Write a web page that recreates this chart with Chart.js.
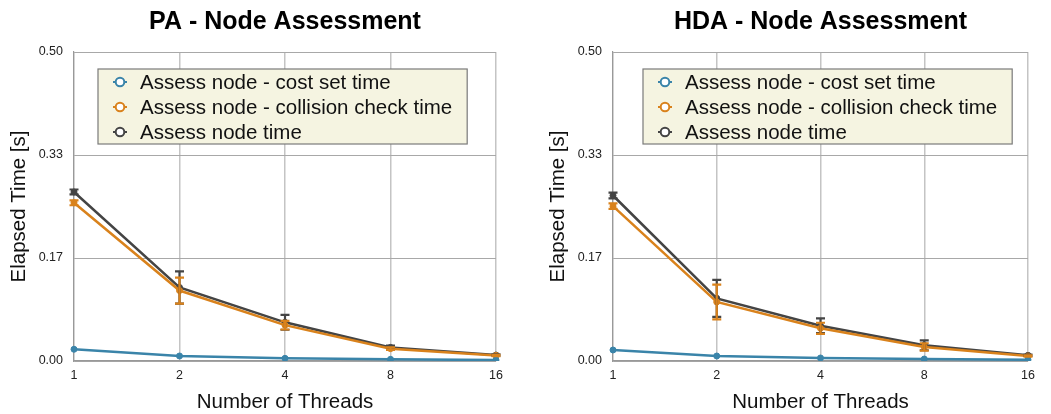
<!DOCTYPE html>
<html>
<head>
<meta charset="utf-8">
<title>Node Assessment</title>
<script src="https://cdn.jsdelivr.net/npm/chart.js"></script>
<style>
  body { margin: 0; background: #fff; }
  #charts { display: flex; width: 1051px; height: 414px; }
  canvas { display: block; }
</style>
</head>
<body>
<div id="charts">
  <canvas id="pa-chart" width="520" height="414"></canvas>
  <canvas id="hda-chart" width="531" height="414"></canvas>
</div>
<script>
const FONT = "'Liberation Sans', Arial, Helvetica, sans-serif";

const threadCounts = ['1', '2', '4', '8', '16'];
const seriesNames = ['Assess node - cost set time', 'Assess node - collision check time', 'Assess node time'];
const seriesColors = ['#3a84a9', '#d9821c', '#444444'];

const yTickValues = [0, 1 / 6, 2 / 6, 0.5];
const yTickLabels = ['0.00', '0.17', '0.33', '0.50'];

// PA timings (seconds) and error margins
const paCostSet = [0.019, 0.0081, 0.0043, 0.0027, 0.0016];
const paCollision = [0.256, 0.114, 0.058, 0.020, 0.009];
const paTotal = [0.2735, 0.119, 0.0626, 0.022, 0.0097];
const paCostSetErr = [0, 0, 0, 0, 0];
const paCollisionErr = [0.004, 0.021, 0.007, 0.002, 0.001];
const paTotalErr = [0.004, 0.026, 0.012, 0.003, 0.001];

// HDA timings (seconds) and error margins
const hdaCostSet = [0.0178, 0.0081, 0.0049, 0.0032, 0.002];
const hdaCollision = [0.2505, 0.0955, 0.0529, 0.0227, 0.0081];
const hdaTotal = [0.2678, 0.1014, 0.057, 0.0254, 0.0092];
const hdaCostSetErr = [0, 0, 0, 0, 0];
const hdaCollisionErr = [0.0045, 0.028, 0.009, 0.006, 0.001];
const hdaTotalErr = [0.0045, 0.030, 0.012, 0.008, 0.001];

// vertical error bars with caps, drawn from dataset.errors
const errorBars = {
  id: 'errorBars',
  afterDatasetsDraw(chart) {
    const ctx = chart.ctx;
    const yScale = chart.scales.y;
    for (let i = chart.data.datasets.length - 1; i >= 0; i--) {
      const ds = chart.data.datasets[i];
      if (!ds.errors) continue;
      const meta = chart.getDatasetMeta(i);
      ctx.save();
      ctx.strokeStyle = ds.borderColor;
      ctx.lineWidth = 2.2;
      meta.data.forEach((pt, j) => {
        const e = ds.errors[j];
        if (!e) return;
        const top = yScale.getPixelForValue(ds.data[j] + e);
        const bottom = yScale.getPixelForValue(ds.data[j] - e);
        ctx.beginPath();
        ctx.moveTo(pt.x, top);
        ctx.lineTo(pt.x, bottom);
        ctx.moveTo(pt.x - 4.5, top);
        ctx.lineTo(pt.x + 4.5, top);
        ctx.moveTo(pt.x - 4.5, bottom);
        ctx.lineTo(pt.x + 4.5, bottom);
        ctx.stroke();
      });
      ctx.restore();
    }
  }
};

// boxed legend sitting inside the plot area
const boxLegend = {
  id: 'boxLegend',
  afterDraw(chart, args, opts) {
    const ctx = chart.ctx;
    const area = chart.chartArea;
    const datasets = chart.data.datasets;
    ctx.save();
    ctx.font = '20.5px ' + FONT;
    let textW = 0;
    datasets.forEach(ds => { textW = Math.max(textW, ctx.measureText(ds.label).width); });
    const x = area.left + opts.offsetX;
    const y = area.top + opts.offsetY;
    const w = textW + 57;
    const h = 75;
    ctx.fillStyle = '#f5f4e1';
    ctx.fillRect(x, y, w, h);
    ctx.strokeStyle = '#7a7a7a';
    ctx.lineWidth = 1.2;
    ctx.strokeRect(x, y, w, h);
    datasets.forEach((ds, i) => {
      const cy = y + 13 + i * 25;
      const mx = x + 22;
      ctx.strokeStyle = ds.borderColor;
      ctx.lineWidth = 2;
      ctx.beginPath();
      ctx.moveTo(mx - 7, cy);
      ctx.lineTo(mx + 7, cy);
      ctx.stroke();
      ctx.beginPath();
      ctx.arc(mx, cy, 4.3, 0, Math.PI * 2);
      ctx.fillStyle = '#fff';
      ctx.fill();
      ctx.stroke();
      ctx.fillStyle = '#111';
      ctx.textBaseline = 'middle';
      ctx.textAlign = 'left';
      ctx.fillText(ds.label, x + 42, cy + 1);
    });
    ctx.restore();
  }
};

function makeDataset(i, values, errors) {
  return {
    label: seriesNames[i],
    data: values,
    errors: errors,
    borderColor: seriesColors[i],
    backgroundColor: seriesColors[i],
    pointBackgroundColor: seriesColors[i],
    pointBorderColor: seriesColors[i],
    borderWidth: 2.5,
    pointRadius: 3,
    pointBorderWidth: 1,
    tension: 0
  };
}

function buildChart(canvasId, titleText, costSet, collision, total, errs, padLeft, padRight, legendX) {
  const ctx = document.getElementById(canvasId).getContext('2d');
  return new Chart(ctx, {
    type: 'line',
    data: {
      labels: threadCounts,
      datasets: [
        makeDataset(0, costSet, errs[0]),
        makeDataset(1, collision, errs[1]),
        makeDataset(2, total, errs[2])
      ]
    },
    options: {
      responsive: false,
      animation: false,
      devicePixelRatio: 1,
      events: [],
      layout: { padding: { left: padLeft, right: padRight, top: 0, bottom: 0 } },
      plugins: {
        legend: { display: false },
        tooltip: { enabled: false },
        title: {
          display: true,
          text: titleText,
          fullSize: false,
          color: '#000',
          font: { family: FONT, size: 25, weight: 'bold', lineHeight: 1 },
          padding: { top: 9.5, bottom: 17.5 }
        },
        boxLegend: { offsetX: legendX, offsetY: 17 }
      },
      scales: {
        x: {
          offset: false,
          grid: { color: '#c4c4c4', lineWidth: 1.5, drawTicks: false },
          border: { color: '#999999', width: 1.2 },
          ticks: { color: '#222', padding: 7, font: { family: FONT, size: 12.5 } },
          title: {
            display: true,
            text: 'Number of Threads',
            color: '#111',
            font: { family: FONT, size: 20.5, lineHeight: 1 },
            padding: { top: 0, bottom: 1.4 }
          },
          afterFit: scale => { scale.height = 53; }
        },
        y: {
          min: 0,
          max: 0.5,
          afterBuildTicks: scale => { scale.ticks = yTickValues.map(v => ({ value: v })); },
          grid: { color: '#a8a8a8', lineWidth: 1, drawTicks: false },
          border: { color: '#999999', width: 1.2 },
          ticks: {
            color: '#222',
            padding: 11,
            font: { family: FONT, size: 12.5 },
            callback: (value, index) => yTickLabels[index]
          },
          title: {
            display: true,
            text: 'Elapsed Time [s]',
            color: '#111',
            font: { family: FONT, size: 20.5, lineHeight: 1 },
            padding: { top: 9, bottom: 0 }
          },
          afterFit: scale => { scale.width = 74; }
        }
      }
    },
    plugins: [errorBars, boxLegend]
  });
}

buildChart('pa-chart', 'PA - Node Assessment', paCostSet, paCollision, paTotal,
  [paCostSetErr, paCollisionErr, paTotalErr], 0, 24, 24);
buildChart('hda-chart', 'HDA - Node Assessment', hdaCostSet, hdaCollision, hdaTotal,
  [hdaCostSetErr, hdaCollisionErr, hdaTotalErr], 19, 23, 30);
</script>
</body>
</html>
